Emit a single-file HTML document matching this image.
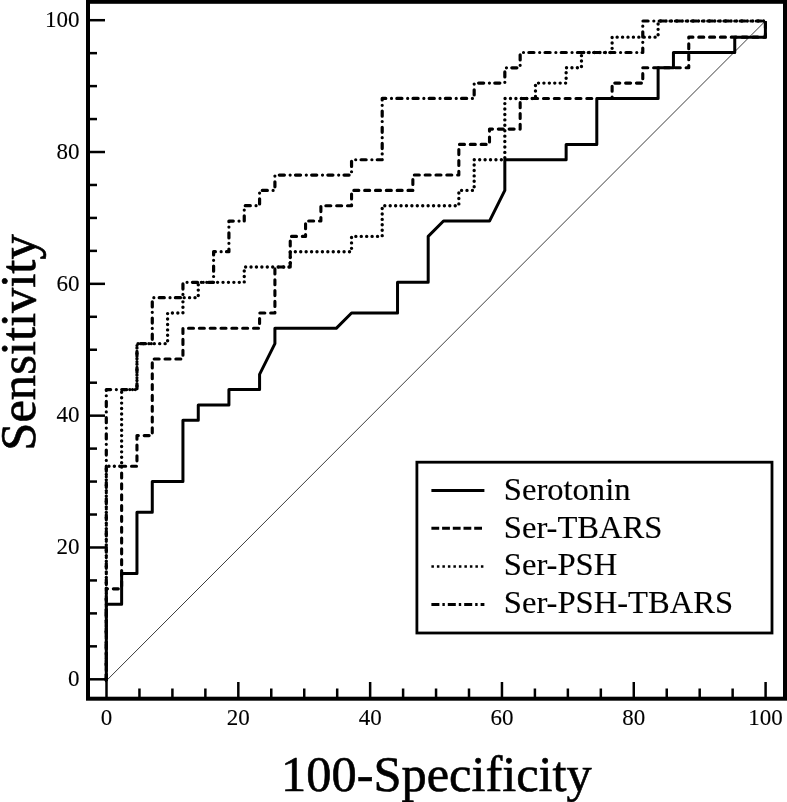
<!DOCTYPE html>
<html><head><meta charset="utf-8"><title>ROC curves</title>
<style>
html,body{margin:0;padding:0;background:#fff;}
body{width:787px;height:802px;overflow:hidden;}
svg{display:block;will-change:transform;}
text{font-family:"Liberation Serif",serif;fill:#000;stroke:#000;stroke-width:0.15px;}
.t{stroke-width:0.6px;}
.k text{stroke-width:0.1px;}
</style></head><body>
<svg width="787" height="802" viewBox="0 0 787 802">
<rect x="0" y="0" width="787" height="802" fill="#fff"/>
<line x1="106.30" y1="680.80" x2="765.40" y2="21.00" stroke="#1a1a1a" stroke-width="0.85"/>
<g fill="none" stroke="#000" stroke-width="3" stroke-linejoin="round">
<path d="M106.30,680.80 L106.30,389.62 L136.96,389.62 L136.96,343.65 L152.28,343.65 L152.28,297.67 L182.94,297.67 L182.94,282.35 L213.60,282.35 L213.60,251.70 L228.92,251.70 L228.92,221.05 L244.25,221.05 L244.25,205.72 L259.58,205.72 L259.58,190.40 L274.91,190.40 L274.91,175.07 L351.55,175.07 L351.55,159.75 L382.20,159.75 L382.20,98.45 L474.17,98.45 L474.17,83.12 L504.83,83.12 L504.83,67.80 L520.16,67.80 L520.16,52.48 L642.78,52.48 L642.78,21.00 L765.40,21.00" stroke-dasharray="5.1 5.73 0.01 5.34" stroke-dashoffset="0.83" stroke-linecap="round" stroke-width="3.2"/>
<path d="M106.30,680.80 L106.30,466.25 L121.63,466.25 L121.63,389.62 L136.96,389.62 L136.96,343.65 L167.61,343.65 L167.61,313.00 L182.94,313.00 L182.94,297.67 L198.27,297.67 L198.27,282.35 L244.25,282.35 L244.25,267.02 L290.24,267.02 L290.24,251.70 L351.55,251.70 L351.55,236.38 L382.20,236.38 L382.20,205.72 L458.84,205.72 L458.84,190.40 L474.17,190.40 L474.17,159.75 L504.83,159.75 L504.83,98.45 L535.48,98.45 L535.48,83.12 L566.14,83.12 L566.14,67.80 L581.47,67.80 L581.47,52.48 L612.12,52.48 L612.12,37.15 L658.11,37.15 L658.11,21.00 L765.40,21.00" stroke-dasharray="0.01 5.408" stroke-dashoffset="-0.465" stroke-linecap="round" stroke-width="3.4"/>
<path d="M106.30,680.80 L106.30,588.85 L121.63,588.85 L121.63,466.25 L136.96,466.25 L136.96,435.60 L152.28,435.60 L152.28,358.97 L182.94,358.97 L182.94,328.32 L259.58,328.32 L259.58,313.00 L274.91,313.00 L274.91,267.02 L290.24,267.02 L290.24,236.38 L305.56,236.38 L305.56,221.05 L320.89,221.05 L320.89,205.72 L351.55,205.72 L351.55,190.40 L412.86,190.40 L412.86,175.07 L458.84,175.07 L458.84,144.42 L489.50,144.42 L489.50,129.10 L520.16,129.10 L520.16,98.45 L612.12,98.45 L612.12,83.12 L642.78,83.12 L642.78,67.80 L688.76,67.80 L688.76,37.15 L765.40,37.15 L765.40,21.00" stroke-dasharray="5.0 5.83" stroke-dashoffset="-1.5" stroke-linecap="round" stroke-width="3.1"/>
<path d="M106.30,680.80 L106.30,604.17 L121.63,604.17 L121.63,573.52 L136.96,573.52 L136.96,512.22 L152.28,512.22 L152.28,481.57 L182.94,481.57 L182.94,420.27 L198.27,420.27 L198.27,404.95 L228.92,404.95 L228.92,389.62 L259.58,389.62 L259.58,374.30 L274.91,343.65 L274.91,328.32 L336.22,328.32 L351.55,313.00 L397.53,313.00 L397.53,282.35 L428.19,282.35 L428.19,236.38 L443.52,221.05 L489.50,221.05 L504.83,190.40 L504.83,159.75 L566.14,159.75 L566.14,144.42 L596.80,144.42 L596.80,98.45 L658.11,98.45 L658.11,67.80 L673.44,67.80 L673.44,52.48 L734.75,52.48 L734.75,37.15 L765.40,37.15 L765.40,21.00"/>
</g>
<g stroke="#000" stroke-width="2.5">
<line x1="106.50" y1="682" x2="106.50" y2="697" />
<line x1="90" y1="679.30" x2="105" y2="679.30" />
<line x1="139.45" y1="688.5" x2="139.45" y2="697" />
<line x1="90" y1="646.34" x2="97" y2="646.34" />
<line x1="172.41" y1="688.5" x2="172.41" y2="697" />
<line x1="90" y1="613.39" x2="97" y2="613.39" />
<line x1="205.37" y1="688.5" x2="205.37" y2="697" />
<line x1="90" y1="580.43" x2="97" y2="580.43" />
<line x1="238.32" y1="682" x2="238.32" y2="697" />
<line x1="90" y1="547.48" x2="105" y2="547.48" />
<line x1="271.27" y1="688.5" x2="271.27" y2="697" />
<line x1="90" y1="514.52" x2="97" y2="514.52" />
<line x1="304.23" y1="688.5" x2="304.23" y2="697" />
<line x1="90" y1="481.57" x2="97" y2="481.57" />
<line x1="337.19" y1="688.5" x2="337.19" y2="697" />
<line x1="90" y1="448.61" x2="97" y2="448.61" />
<line x1="370.14" y1="682" x2="370.14" y2="697" />
<line x1="90" y1="415.66" x2="105" y2="415.66" />
<line x1="403.10" y1="688.5" x2="403.10" y2="697" />
<line x1="90" y1="382.70" x2="97" y2="382.70" />
<line x1="436.05" y1="688.5" x2="436.05" y2="697" />
<line x1="90" y1="349.75" x2="97" y2="349.75" />
<line x1="469.00" y1="688.5" x2="469.00" y2="697" />
<line x1="90" y1="316.79" x2="97" y2="316.79" />
<line x1="501.96" y1="682" x2="501.96" y2="697" />
<line x1="90" y1="283.84" x2="105" y2="283.84" />
<line x1="534.91" y1="688.5" x2="534.91" y2="697" />
<line x1="90" y1="250.88" x2="97" y2="250.88" />
<line x1="567.87" y1="688.5" x2="567.87" y2="697" />
<line x1="90" y1="217.93" x2="97" y2="217.93" />
<line x1="600.83" y1="688.5" x2="600.83" y2="697" />
<line x1="90" y1="184.97" x2="97" y2="184.97" />
<line x1="633.78" y1="682" x2="633.78" y2="697" />
<line x1="90" y1="152.02" x2="105" y2="152.02" />
<line x1="666.74" y1="688.5" x2="666.74" y2="697" />
<line x1="90" y1="119.06" x2="97" y2="119.06" />
<line x1="699.69" y1="688.5" x2="699.69" y2="697" />
<line x1="90" y1="86.11" x2="97" y2="86.11" />
<line x1="732.64" y1="688.5" x2="732.64" y2="697" />
<line x1="90" y1="53.15" x2="97" y2="53.15" />
<line x1="765.60" y1="682" x2="765.60" y2="697" />
<line x1="90" y1="20.20" x2="105" y2="20.20" />
</g>
<rect x="88" y="1.8" width="697" height="696.9" fill="none" stroke="#000" stroke-width="4"/>
<g class="k" font-size="23">
<text x="106.50" y="725" text-anchor="middle">0</text>
<text x="238.32" y="725" text-anchor="middle">20</text>
<text x="370.14" y="725" text-anchor="middle">40</text>
<text x="501.96" y="725" text-anchor="middle">60</text>
<text x="633.78" y="725" text-anchor="middle">80</text>
<text x="765.60" y="725" text-anchor="middle">100</text>
<text x="79.5" y="686.00" text-anchor="end">0</text>
<text x="79.5" y="554.18" text-anchor="end">20</text>
<text x="79.5" y="422.36" text-anchor="end">40</text>
<text x="79.5" y="290.54" text-anchor="end">60</text>
<text x="79.5" y="158.72" text-anchor="end">80</text>
<text x="79.5" y="26.90" text-anchor="end">100</text>
</g>
<text class="t" x="0" y="0" font-size="50.6" text-anchor="middle" transform="translate(35,342.5) rotate(-90)">Sensitivity</text>
<text class="t" x="436.4" y="791" font-size="50.4" text-anchor="middle">100-Specificity</text>
<rect x="416.9" y="462.2" width="355.1" height="170.8" fill="#fff" stroke="#000" stroke-width="2.8"/>
<g stroke="#000" stroke-width="3" fill="none">
<line x1="431.4" y1="490.6" x2="484.4" y2="490.6"/>
<line x1="431.4" y1="528.3" x2="484.4" y2="528.3" stroke-dasharray="7.8 2.9"/>
<line x1="431.4" y1="566.5" x2="484.4" y2="566.5" stroke-dasharray="2.5 3.0" stroke-width="2.7"/>
<line x1="431.4" y1="604.4" x2="484.4" y2="604.4" stroke-dasharray="8 3 2.4 3"/>
</g>
<g font-size="32.6">
<text x="503.8" y="499.9">Serotonin</text>
<text x="503.8" y="537.7">Ser-TBARS</text>
<text x="503.8" y="575.2">Ser-PSH</text>
<text x="503.8" y="612.7">Ser-PSH-TBARS</text>
</g>
</svg>
</body></html>
